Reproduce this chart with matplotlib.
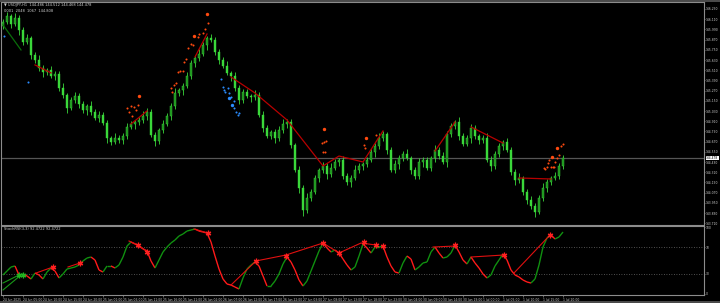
import matplotlib
matplotlib.use("Agg")
import matplotlib.pyplot as plt
from matplotlib.collections import LineCollection
from matplotlib.transforms import blended_transform_factory

# ---- price data (H1 bars) ----
open_first = 146.030
closes = [
    146.077, 146.148, 146.054, 146.124, 145.983, 145.842, 145.889, 145.689, 145.630, 145.536,
    145.489, 145.513, 145.442, 145.466, 145.301, 145.219, 145.066, 145.160, 145.207, 145.113,
    145.042, 145.089, 145.019, 144.948, 144.984, 144.890, 144.713, 144.666, 144.713, 144.690,
    144.737, 144.843, 144.878, 144.901, 144.925, 144.972, 145.019, 144.748, 144.678, 144.807,
    144.878, 144.972, 145.089, 145.242, 145.278, 145.325, 145.442, 145.595, 145.654, 145.701,
    145.807, 145.889, 145.866, 145.725, 145.630, 145.560, 145.478, 145.442, 145.301, 145.160,
    145.254, 145.207, 145.195, 145.219, 144.984, 144.831, 144.737, 144.784, 144.713, 144.807,
    144.878, 144.901, 144.631, 144.337, 144.125, 143.866, 144.008, 144.078, 144.243, 144.337,
    144.384, 144.290, 144.360, 144.431, 144.454, 144.266, 144.196, 144.243, 144.337, 144.384,
    144.407, 144.454, 144.549, 144.619, 144.713, 144.760, 144.572, 144.337, 144.407, 144.478,
    144.525, 144.478, 144.337, 144.266, 144.431, 144.454, 144.360, 144.478, 144.572, 144.501,
    144.431, 144.760, 144.854, 144.901, 144.737, 144.643, 144.713, 144.831, 144.737, 144.690,
    144.713, 144.454, 144.384, 144.525, 144.619, 144.666, 144.572, 144.313, 144.219, 144.243,
    144.078, 143.984, 143.913, 143.843, 144.008, 144.125, 144.196, 144.243, 144.266, 144.384,
    144.478,
]
# upper / lower shadows in pips (0.01)
wick_up = [
    3, 5, 2, 6, 4, 3, 5, 2, 4, 6,
    3, 2, 5, 4, 3, 6, 2, 4, 5, 3,
    4, 2, 6, 3, 5, 4, 3, 2, 6, 4,
    3, 5, 4, 2, 3, 6, 5, 3, 4, 2,
    5, 3, 4, 6, 2, 3, 5, 4, 3, 6,
    4, 2, 5, 3, 4, 3, 6, 2, 5, 4,
    3, 4, 2, 6, 3, 5, 4, 2, 3, 5,
    6, 4, 3, 2, 5, 4, 6, 3, 4, 2,
    5, 3, 6, 4, 2, 5, 3, 4, 6, 3,
    2, 4, 5, 3, 6, 4, 2, 3, 5, 4,
    3, 6, 2, 4, 5, 3, 4, 2, 6, 3,
    5, 4, 3, 2, 6, 4, 3, 5, 4, 2,
    3, 6, 5, 3, 4, 2, 5, 3, 4, 6,
    2, 3, 5, 4, 3, 6, 4, 2, 5, 3,
    4,
]
wick_dn = [
    4, 2, 5, 3, 6, 4, 2, 5, 3, 4,
    6, 3, 2, 5, 4, 3, 6, 2, 4, 5,
    3, 6, 4, 2, 5, 3, 6, 4, 2, 3,
    5, 4, 2, 6, 3, 4, 5, 2, 6, 3,
    4, 2, 5, 3, 4, 6, 2, 3, 5, 4,
    2, 6, 3, 4, 5, 2, 3, 6, 4, 5,
    3, 2, 6, 4, 3, 5, 2, 4, 6, 3,
    4, 5, 3, 2, 6, 7, 3, 4, 2, 5,
    3, 6, 4, 2, 5, 3, 4, 6, 2, 3,
    5, 4, 2, 6, 3, 4, 5, 2, 3, 6,
    4, 2, 5, 3, 4, 6, 2, 3, 5, 4,
    2, 6, 3, 4, 5, 2, 3, 6, 4, 5,
    3, 2, 6, 4, 3, 5, 2, 4, 6, 3,
    4, 5, 3, 6, 2, 4, 5, 3, 2, 4,
    3,
]
current_price = 144.478

# red zigzag lines on price (bar index, price)
price_zigzags = [
    ([8, 12], [145.572, 145.478]),
    ([32, 36], [144.878, 145.031]),
    ([48, 51], [145.666, 145.936]),
    ([57, 63, 71, 80, 84, 90, 95],
     [145.430, 145.242, 144.925, 144.384, 144.501, 144.431, 144.796]),
    ([108, 113], [144.560, 144.901]),
    ([117, 125], [144.843, 144.654]),
    ([129, 137], [144.243, 144.231]),
]
price_green_line = ([0, 4.5], [146.042, 145.748])

# signal dots
orange_bar = [32, 32.75, 31, 31.5, 32.25, 33.25, 33.75, 42, 42.25, 42.75, 43.25, 43.75,
              44.25, 45, 45.25, 45.75, 46.25, 47, 47.5, 48.75, 49, 50, 50.5, 51.25,
              80.25, 80.75, 79.75, 80, 80.5, 90.25, 90.5, 93.25, 140, 139.5, 139,
              138.5, 136.5, 136.25, 138, 136, 137, 137.5, 137.75, 135.25, 135.5]
orange_price = [145.089, 145.078, 145.066, 145.019, 144.972, 145.042, 145.101, 145.301,
                145.254, 145.336, 145.360, 145.489, 145.501, 145.501, 145.607, 145.642,
                145.772, 145.819, 145.807, 145.901, 145.936, 145.948, 145.995, 146.066,
                144.666, 144.678, 144.654, 144.549, 144.549, 144.631, 144.596, 144.748,
                144.643, 144.619, 144.513, 144.478, 144.454, 144.419, 144.431, 144.372,
                144.372, 144.372, 144.372, 144.360, 144.349]
orange_big_bar = [34, 47.75, 51, 80.25, 90.75, 138.5, 137.25]
orange_big_price = [145.207, 145.913, 146.171, 144.819, 144.713, 144.596, 144.490]
blue_bar = [0.25, 6.25, 54.5, 55, 55.25, 55.5, 56.25, 56.5, 57, 57.75, 57.75, 58.25, 58.75, 59]
blue_price = [145.913, 145.372, 145.407, 145.313, 145.278, 145.254, 145.301, 145.242,
              145.195, 145.148, 145.066, 145.019, 144.984, 145.007]
blue_big_bar = [56.5, 57.25]
blue_big_price = [145.184, 145.101]

# ---- oscillator ----
osc = [
    28.4, 34.3, 40.3, 41.8, 28.4, 29.9, 26.9, 22.4, 31.3, 28.4,
    22.4, 32.8, 38.8, 34.3, 23.9, 29.9, 37.3, 38.8, 40.3, 43.3,
    49.3, 53.7, 55.2, 50.7, 35.8, 32.8, 41.8, 41.8, 38.8, 43.3,
    55.2, 71.6, 77.6, 74.6, 71.6, 67.2, 64.2, 49.3, 38.8, 50.7,
    62.7, 70.1, 76.1, 80.6, 86.6, 89.6, 94.0, 95.5, 97.0, 94.0,
    92.5, 91.0, 77.6, 56.7, 37.3, 22.4, 14.9, 13.4, 10.4, 7.5,
    23.9, 37.3, 43.3, 47.8, 41.8, 26.9, 11.9, 11.9, 19.4, 29.9,
    44.8, 55.2, 47.8, 35.8, 20.9, 11.9, 19.4, 34.3, 49.3, 64.2,
    76.1, 68.7, 62.7, 65.7, 61.2, 52.2, 43.3, 35.8, 40.3, 56.7,
    74.6, 68.7, 61.2, 70.1, 70.1, 71.6, 55.2, 41.8, 32.8, 31.3,
    46.3, 56.7, 52.2, 35.8, 40.3, 46.3, 47.8, 62.7, 70.1, 61.2,
    53.7, 55.2, 61.2, 73.1, 62.7, 50.7, 44.8, 55.2, 46.3, 38.8,
    29.9, 23.9, 28.4, 41.8, 50.7, 59.7, 50.7, 35.8, 28.4, 25.4,
    20.9, 17.9, 16.4, 22.4, 43.3, 70.1, 83.6, 88.1, 82.1, 85.1,
    92.5,
]
osc_levels = [70, 30]
star_bar = [12.5, 19.25, 33.75, 36, 51.25, 63.25, 70.75, 80, 84, 90.25, 93.25, 95, 113, 125.25, 136.75]
star_val = [40.3, 46.3, 73.1, 62.7, 91.0, 49.3, 56.7, 76.1, 61.2, 77.6, 73.1, 71.6, 73.1, 58.2, 88.1]
green_star_bar = [4, 5]
green_star_val = [28.4, 28.4]
osc_zigzags = [
    ([8.25, 12.5], [31.3, 40.3]),
    ([16.25, 19.25], [40.3, 46.3]),
    ([31.5, 33.75, 36.25], [79.1, 73.1, 62.7]),
    ([47.75, 51.25], [97.0, 91.0]),
    ([57, 63.25, 70.75, 80, 84, 89.5, 93.25], [13.4, 49.3, 58.2, 76.1, 61.2, 76.1, 73.1]),
    ([107.5, 113], [70.1, 71.6]),
    ([117, 125.25], [55.2, 58.2]),
    ([127.75, 136.75], [31.3, 88.1]),
]
osc_green_lines = [([0, 4], [16.4, 28.4]), ([0, 4.5], [6.0, 28.4])]

# ---- axis labels ----
price_ticks = [146.230, 146.110, 145.990, 145.870, 145.750, 145.630, 145.510, 145.390,
               145.270, 145.150, 145.030, 144.910, 144.790, 144.670, 144.550, 144.430,
               144.310, 144.190, 144.070, 143.950, 143.830, 143.710]
time_labels = [
    "24 Jun 2025", "24 Jun 05:00", "24 Jun 10:00", "24 Jun 15:00", "24 Jun 20:00",
    "25 Jun 01:00", "25 Jun 06:00", "25 Jun 11:00", "25 Jun 16:00", "25 Jun 21:00",
    "26 Jun 02:00", "26 Jun 07:00", "26 Jun 12:00", "26 Jun 17:00", "26 Jun 22:00",
    "27 Jun 03:00", "27 Jun 08:00", "27 Jun 13:00", "27 Jun 18:00", "27 Jun 23:00",
    "30 Jun 04:00", "30 Jun 09:00", "30 Jun 14:00", "30 Jun 19:00", "1 Jul 00:00",
    "1 Jul 05:00", "1 Jul 10:00", "1 Jul 15:00", "1 Jul 20:00",
]
label_every = 5

BG = "black"
FRAME = "#8c8c8c"
TXT = "#d0d0d0"
LIME = "#3ad83a"
DARK = "#1c8c1c"

fig = plt.figure(figsize=(7.2, 3.03), dpi=100, facecolor=BG)
W, H = 720.0, 303.0
ax = fig.add_axes([1 / W, 1 - 225 / H, 703 / W, 223 / H], facecolor=BG)
ax2 = fig.add_axes([1 / W, 1 - 295 / H, 703 / W, 69 / H], facecolor=BG, sharex=ax)

n = len(closes)
xs = list(range(n))
opens = [open_first] + closes[:-1]
highs = [max(o, c) + u / 100 for o, c, u in zip(opens, closes, wick_up)]
lows = [min(o, c) - d / 100 for o, c, d in zip(opens, closes, wick_dn)]

ax.vlines(xs, lows, highs, color=LIME, lw=0.6, zorder=2)
bottoms = [min(o, c) for o, c in zip(opens, closes)]
heights = [max(abs(c - o), 0.006) for o, c in zip(opens, closes)]
body_cols = [DARK if c >= o else LIME for o, c in zip(opens, closes)]
ax.bar(xs, heights, bottom=bottoms, width=0.5, color=body_cols,
       edgecolor=LIME, linewidth=0.3, zorder=3)

ax.axhline(current_price, color="#555555", lw=0.9, zorder=1)

for bx, py in price_zigzags:
    ax.plot(bx, py, color="#b80000", lw=0.9, zorder=4)
ax.plot(*price_green_line, color="#0a6e0a", lw=0.9, zorder=4)

ax.scatter(orange_bar, orange_price, s=2.2, color="#ff4a10", lw=0, zorder=5)
ax.scatter(orange_big_bar, orange_big_price, s=6, color="#ff4a10", lw=0, zorder=5)
ax.scatter(blue_bar, blue_price, s=2.2, color="#2a8cff", lw=0, zorder=5)
ax.scatter(blue_big_bar, blue_big_price, s=6, color="#2a8cff", lw=0, zorder=5)

ax.set_ylim(143.690, 146.312)
ax.set_xlim(-0.5, 175.25)

# oscillator panel
segs = [[(i, osc[i]), (i + 1, osc[i + 1])] for i in range(n - 1)]
seg_cols = ["#109010" if osc[i + 1] >= osc[i] else "#ff1a1a" for i in range(n - 1)]
ax2.add_collection(LineCollection(segs, colors=seg_cols, linewidths=1.0, zorder=3))
for lv in osc_levels:
    ax2.axhline(lv, color="#6a6a6a", lw=0.6, ls=(0, (1, 2)), zorder=1)
for bx, vy in osc_zigzags:
    ax2.plot(bx, vy, color="#e01010", lw=0.8, zorder=4)
for bx, vy in osc_green_lines:
    ax2.plot(bx, vy, color="#189818", lw=0.8, zorder=4)
ax2.plot(star_bar, star_val, ls="none", marker=(6, 2, 0), ms=4, mew=0.9,
         color="#ff2020", zorder=5)
ax2.plot(green_star_bar, green_star_val, ls="none", marker=(6, 2, 0), ms=4, mew=0.9,
         color="#22b422", zorder=5)
ax2.set_ylim(-1.5, 101.5)

for a in (ax, ax2):
    for sp in a.spines.values():
        sp.set_color(FRAME)
        sp.set_linewidth(0.8)
    a.yaxis.tick_right()
    a.tick_params(axis="y", colors=TXT, labelsize=2.2, length=1.0, width=0.5,
                  direction="out", pad=0.5, color=FRAME)

ax.set_yticks(price_ticks)
ax.set_yticklabels([f"{p:.3f}" for p in price_ticks])
ax.tick_params(axis="x", bottom=False, labelbottom=False)

ax2.set_yticks([100, 70, 30, 0])
ax2.set_yticklabels(["100", "70", "30", "0"])

ticks = list(range(0, n, label_every))
ax2.set_xticks(ticks)
ax2.set_xticklabels(time_labels[:len(ticks)])
ax2.tick_params(axis="x", colors=TXT, labelsize=2.2, length=1.5, width=0.5,
                direction="out", pad=0.6, color=FRAME)
for lbl in ax2.get_xticklabels():
    lbl.set_ha("left")

trans = blended_transform_factory(ax.transAxes, ax.transData)
ax.text(1.003, current_price, f"{current_price:.3f}", transform=trans, fontsize=2.2,
        color="black", va="center", ha="left",
        bbox=dict(boxstyle="square,pad=0.12", fc="white", ec="white", lw=0))

fig.text(4 / W, 1 - 5 / H, "\u25bc USDJPY,H1  144.486 144.512 144.468 144.478",
         fontsize=2.6, color=TXT, va="center", ha="left")
fig.text(4 / W, 1 - 10.5 / H, "0001  2048  1067  144.808",
         fontsize=2.6, color=TXT, va="center", ha="left")
fig.text(4 / W, 1 - 229.5 / H, "StochRSI(3,3) 92.4722 92.4722",
         fontsize=2.6, color=TXT, va="center", ha="left")

# figure frame
fig.add_artist(plt.Line2D([0, 1], [1 - 1 / H, 1 - 1 / H], color="#5a5a5a", lw=1.2))
fig.add_artist(plt.Line2D([0, 1], [1 - 302 / H, 1 - 302 / H], color="#5a5a5a", lw=1.2))

fig.savefig("out.png", dpi=100, facecolor=BG)
